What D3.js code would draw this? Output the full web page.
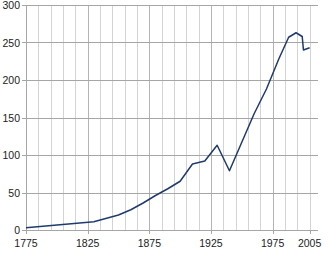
<!DOCTYPE html>
<html>
<head>
<meta charset="utf-8">
<script src="https://cdn.jsdelivr.net/npm/d3@7"></script>
<style>
  body { margin: 0; background: white; }
  svg text { font-family: "Liberation Sans", Arial, sans-serif; font-size: 10.5px; fill: #222; }
</style>
</head>
<body>
<svg id="chart" width="330" height="254"></svg>
<script>
var years = [1775, 1830, 1850, 1860, 1870, 1880, 1890, 1900, 1910, 1920, 1930, 1940,
             1950, 1960, 1970, 1980, 1988, 1994, 1999, 2000, 2005];
var values = [3, 11, 20, 27, 36, 46, 55, 65, 88, 92, 113, 79,
              117, 155, 188, 228, 257, 263, 258, 240, 243];
var xTickLabels = [1775, 1825, 1875, 1925, 1975, 2005];
var yTickLabels = [0, 50, 100, 150, 200, 250, 300];

var svg = d3.select("#chart");
var plotLeft = 26, plotRight = 318, plotTop = 5, plotBottom = 230;

var x = d3.scaleLinear().domain([1775, 2011.8]).range([plotLeft, plotRight]);
var y = d3.scaleLinear().domain([0, 300]).range([plotBottom, plotTop]);

// vertical grid every 10 years, darker every 50
var vLines = d3.range(1785, 2006, 10);
svg.append("g")
  .selectAll("line")
  .data(vLines)
  .enter()
  .append("line")
  .attr("x1", function (d) { return Math.round(x(d)) + 0.5; })
  .attr("x2", function (d) { return Math.round(x(d)) + 0.5; })
  .attr("y1", plotTop)
  .attr("y2", plotBottom)
  .attr("stroke", function (d) { return (d - 1775) % 50 == 0 ? "#b4b4b4" : "#d4d4d4"; })
  .attr("stroke-width", 1);

// horizontal grid
svg.append("g")
  .selectAll("line")
  .data(yTickLabels)
  .enter()
  .append("line")
  .attr("x1", plotLeft - 4)
  .attr("x2", plotRight)
  .attr("y1", function (d) { return Math.round(y(d)) + 0.5; })
  .attr("y2", function (d) { return Math.round(y(d)) + 0.5; })
  .attr("stroke", "#a6a6a6")
  .attr("stroke-width", 1);

// y axis line
svg.append("line")
  .attr("x1", plotLeft + 0.5).attr("x2", plotLeft + 0.5)
  .attr("y1", plotTop).attr("y2", plotBottom + 4)
  .attr("stroke", "#a6a6a6");

// x tick marks
svg.append("g")
  .selectAll("line")
  .data(xTickLabels)
  .enter()
  .append("line")
  .attr("x1", function (d) { return Math.round(x(d)) + 0.5; })
  .attr("x2", function (d) { return Math.round(x(d)) + 0.5; })
  .attr("y1", plotBottom)
  .attr("y2", plotBottom + 4)
  .attr("stroke", "#a6a6a6");

// labels
svg.append("g")
  .selectAll("text")
  .data(yTickLabels)
  .enter()
  .append("text")
  .attr("x", 20)
  .attr("y", function (d) { return y(d) + 4; })
  .attr("text-anchor", "end")
  .text(function (d) { return d; });

svg.append("g")
  .selectAll("text")
  .data(xTickLabels)
  .enter()
  .append("text")
  .attr("x", function (d) { return x(d); })
  .attr("y", 247)
  .attr("text-anchor", "middle")
  .text(function (d) { return d; });

var line = d3.line()
  .x(function (d, i) { return x(years[i]); })
  .y(function (d) { return y(d); });

svg.append("path")
  .datum(values)
  .attr("d", line)
  .attr("fill", "none")
  .attr("stroke", "#203a6e")
  .attr("stroke-width", 1.5)
  .attr("stroke-linejoin", "round");
</script>
</body>
</html>
